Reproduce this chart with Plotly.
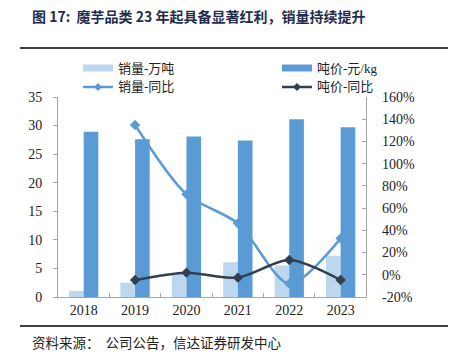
import plotly.graph_objects as go
from plotly.subplots import make_subplots

years = ["2018", "2019", "2020", "2021", "2022", "2023"]
sales_volume = [1.05, 2.5, 4.2, 6.1, 5.5, 7.2]          # 销量-万吨
price_per_kg = [28.9, 27.6, 28.1, 27.4, 31.1, 29.7]     # 吨价-元/kg
sales_yoy = [None, 134.8, 72.4, 46.3, -8.0, 32.8]        # 销量-同比 (%)
price_yoy = [None, -4.7, 1.9, -2.6, 13.3, -4.7]          # 吨价-同比 (%)

left_ticks = [0, 5, 10, 15, 20, 25, 30, 35]
right_ticks = [-20, 0, 20, 40, 60, 80, 100, 120, 140, 160]

LIGHT = "#BDD7EE"
MID = "#5B9BD5"
DARK = "#323F4F"
AXIS = "#A6A6A6"
SERIF = "Liberation Serif, Times New Roman, serif"
CJK = "Noto Sans CJK SC"

W, H = 451, 356
L, R, T, B = 58, 65, 97, 59

fig = make_subplots(specs=[[{"secondary_y": True}]])

fig.add_trace(go.Bar(x=years, y=sales_volume, name="销量-万吨", marker_color=LIGHT,
                     marker_line_width=0, showlegend=False), secondary_y=False)
fig.add_trace(go.Bar(x=years, y=price_per_kg, name="吨价-元/kg", marker_color=MID,
                     marker_line_width=0, showlegend=False), secondary_y=False)
fig.add_trace(go.Scatter(x=years, y=sales_yoy, name="销量-同比", mode="lines+markers",
                         line=dict(color=MID, width=2.5, shape="spline", smoothing=0.8),
                         marker=dict(symbol="diamond", size=8, color=MID),
                         showlegend=False), secondary_y=True)
fig.add_trace(go.Scatter(x=years, y=price_yoy, name="吨价-同比", mode="lines+markers",
                         line=dict(color=DARK, width=2.5, shape="spline", smoothing=0.8),
                         marker=dict(symbol="diamond", size=8, color=DARK),
                         showlegend=False), secondary_y=True)


def fx(p):
    return (p - L) / (W - L - R)


def fy(p):
    return (H - B - p) / (H - T - B)


shapes = [
    # header / footer rules
    dict(type="line", xref="paper", yref="paper", x0=fx(20), x1=fx(448),
         y0=fy(48), y1=fy(48), line=dict(color="#000000", width=1.3)),
    dict(type="line", xref="paper", yref="paper", x0=fx(20), x1=fx(448),
         y0=fy(326), y1=fy(326), line=dict(color="#000000", width=1.3)),
]

annotations = [
    dict(text="<b>图 17:  魔芋品类 23 年起具备显著红利，销量持续提升</b>", xref="paper", yref="paper",
         x=fx(30), y=fy(16), xanchor="left", yanchor="middle", showarrow=False,
         font=dict(family=CJK, size=14, color="#1F2D4D")),
    dict(text="资料来源：  公司公告，信达证券研发中心", xref="paper", yref="paper",
         x=fx(30), y=fy(342), xanchor="left", yanchor="middle", showarrow=False,
         font=dict(family=CJK, size=13.5, color="#222222")),
]

# manual legend
legend_items = [
    ("bar", LIGHT, "销量-万吨", 83, 68),
    ("bar", MID, "吨价-元/kg", 282, 68),
    ("line", MID, "销量-同比", 83, 87),
    ("line", DARK, "吨价-同比", 282, 87),
]
for kind, color, label, x0, yc in legend_items:
    if kind == "bar":
        shapes.append(dict(type="rect", xref="paper", yref="paper", x0=fx(x0), x1=fx(x0 + 30),
                           y0=fy(yc + 3.5), y1=fy(yc - 3.5), fillcolor=color, line=dict(width=0)))
    else:
        shapes.append(dict(type="line", xref="paper", yref="paper", x0=fx(x0), x1=fx(x0 + 30),
                           y0=fy(yc), y1=fy(yc), line=dict(color=color, width=2.5)))
        shapes.append(dict(type="path", xref="paper", yref="paper",
                           path=f"M {fx(x0 + 15)} {fy(yc - 4)} L {fx(x0 + 19)} {fy(yc)} L {fx(x0 + 15)} {fy(yc + 4)} L {fx(x0 + 11)} {fy(yc)} Z",
                           fillcolor=color, line=dict(width=0)))
    annotations.append(dict(text=label, xref="paper", yref="paper", x=fx(x0 + 33), y=fy(yc),
                            xanchor="left", yanchor="middle", showarrow=False,
                            font=dict(family=f"{SERIF}, {CJK}", size=13, color="#222222")))

fig.update_layout(
    width=W, height=H,
    margin=dict(l=L, r=R, t=T, b=B, pad=0),
    paper_bgcolor="white", plot_bgcolor="white",
    barmode="group", bargap=0.43, bargroupgap=0,
    showlegend=False,
    shapes=shapes, annotations=annotations,
    font=dict(family=SERIF, size=14, color="#222222"),
)

fig.update_xaxes(
    type="category", range=[-0.5, 5.5], showgrid=False, showline=True, linecolor=AXIS, linewidth=1,
    ticks="inside", ticklen=4, tickcolor=AXIS, tickson="boundaries",
    tickfont=dict(family=SERIF, size=14, color="#222222"),
)
fig.update_yaxes(
    range=[0, 35], tickvals=left_ticks, showgrid=False, zeroline=False, showline=True,
    linecolor=AXIS, linewidth=1, ticks="outside", ticklen=4, tickcolor=AXIS,
    tickfont=dict(family=SERIF, size=14, color="#222222"), ticklabelstandoff=8,
    secondary_y=False,
)
fig.update_yaxes(
    range=[-20, 160], tickvals=right_ticks, ticktext=[f"{v}%" for v in right_ticks],
    showgrid=False, zeroline=False, showline=True, linecolor=AXIS, linewidth=1,
    ticks="inside", ticklen=4, tickcolor=AXIS,
    tickfont=dict(family=SERIF, size=14, color="#222222"), ticklabelstandoff=12,
    secondary_y=True,
)

fig.write_html(
    "out.html",
    config={"displayModeBar": False},
    post_script="document.body.style.margin='0';document.body.style.overflow='hidden';window.dispatchEvent(new Event('resize'));",
)
